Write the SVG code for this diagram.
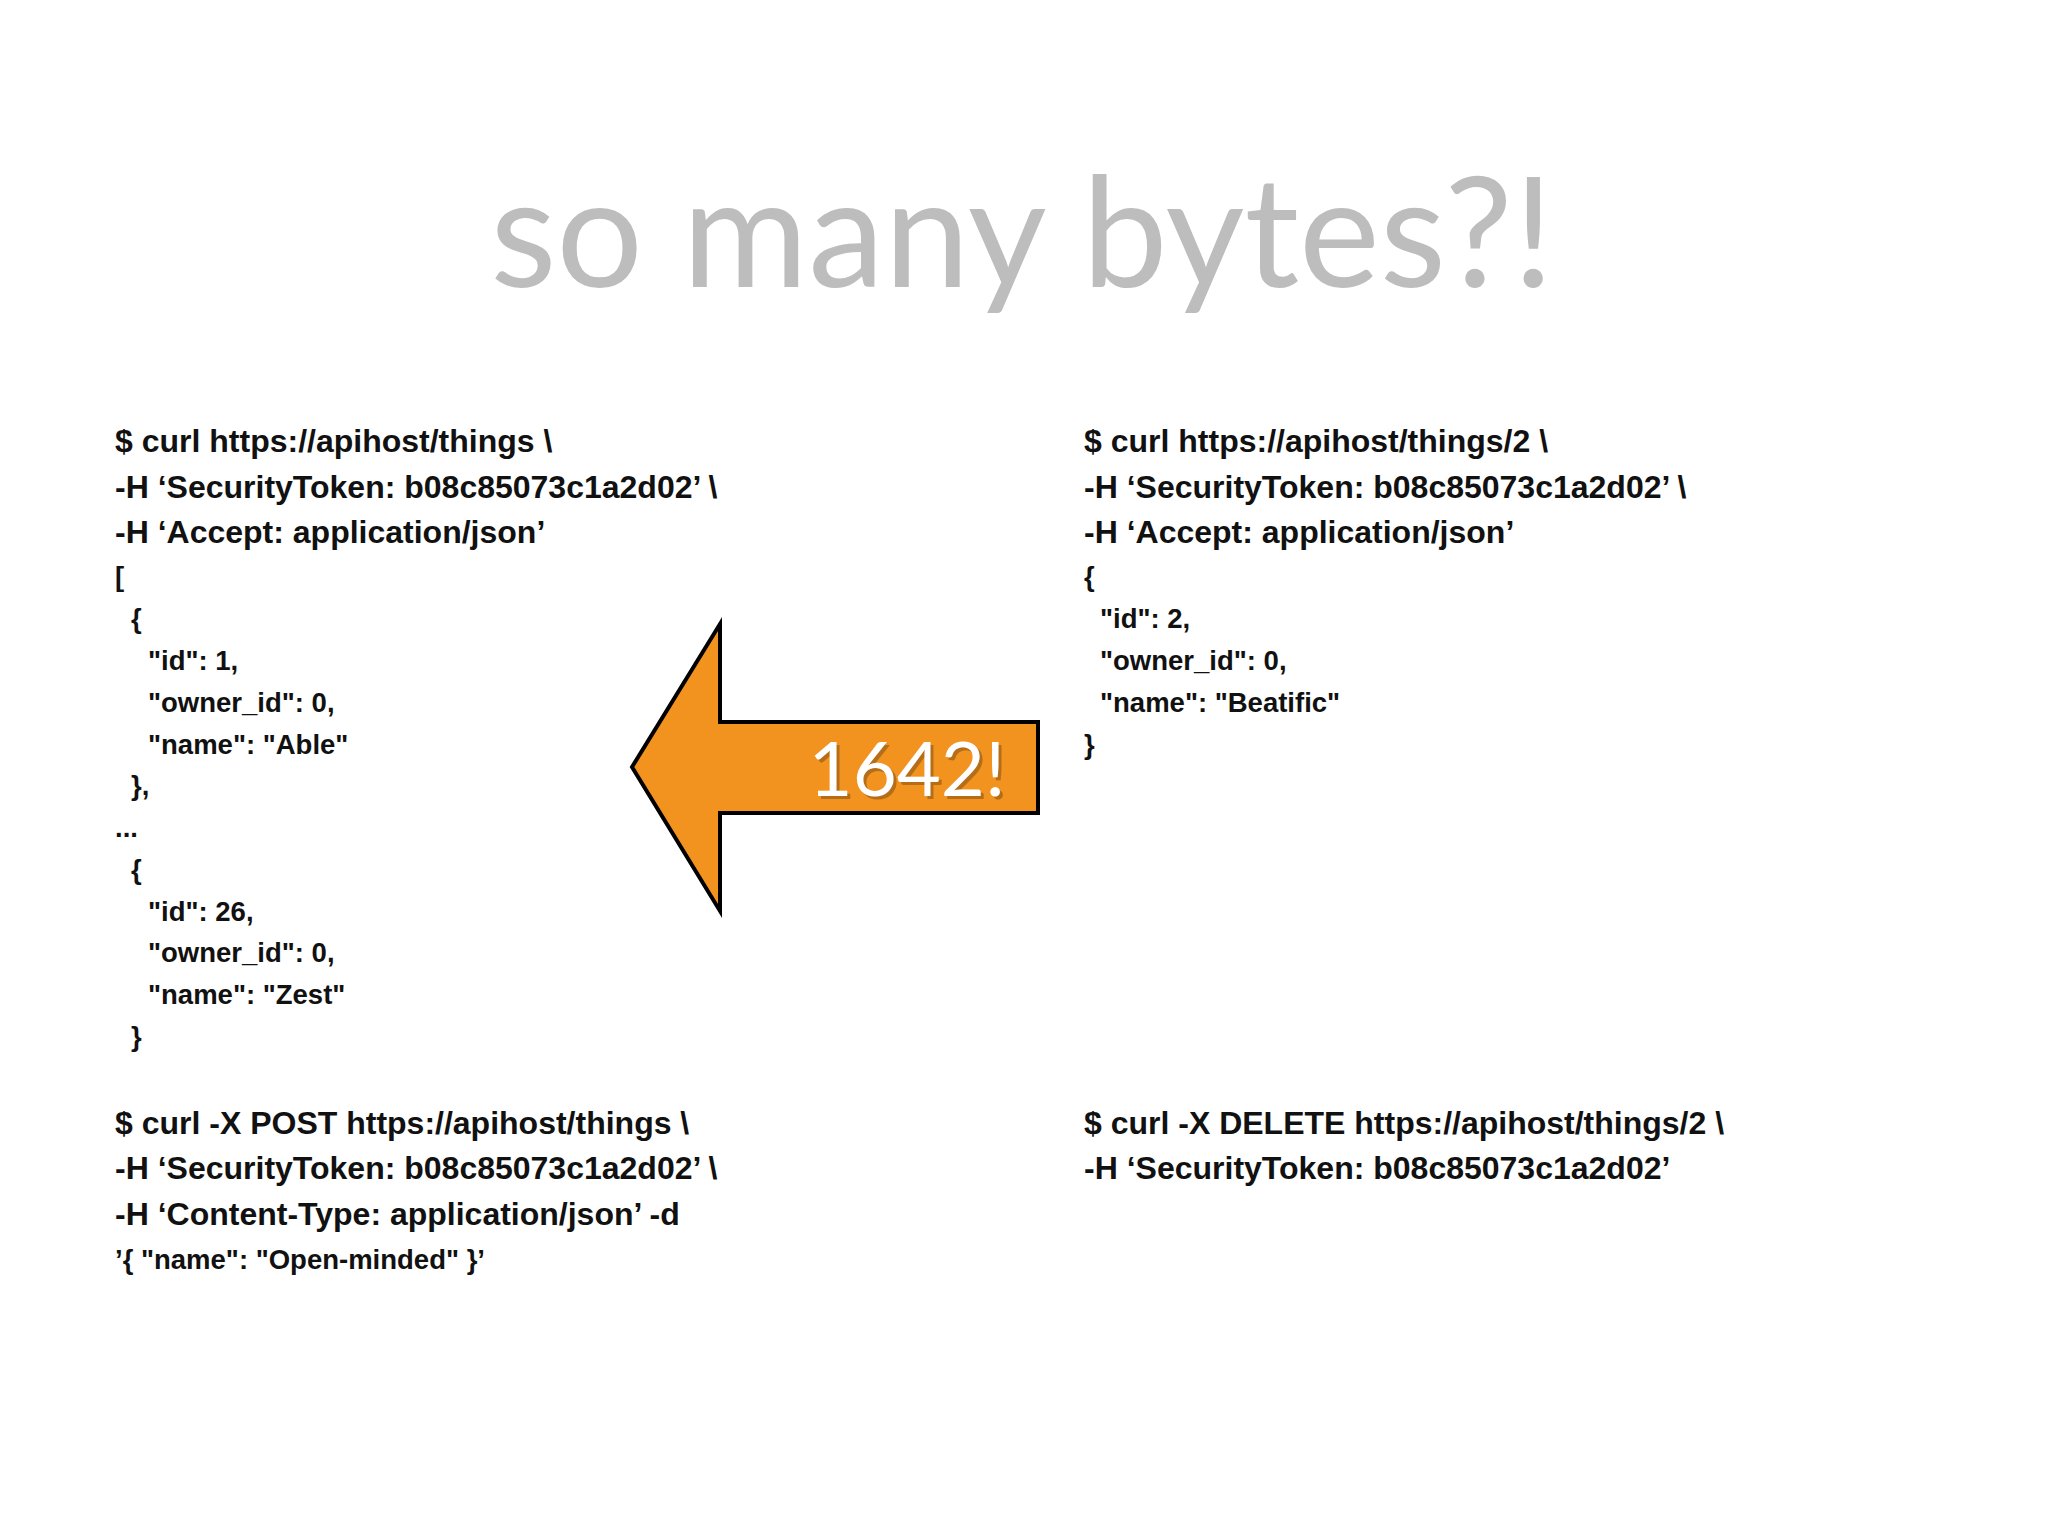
<svg xmlns="http://www.w3.org/2000/svg" width="2048" height="1536" viewBox="0 0 2048 1536">
<style>
.t{font-family:"Liberation Sans",Arial,sans-serif;font-weight:bold;font-size:32px;fill:#111}
.s{font-size:27.5px}
</style>
<rect width="2048" height="1536" fill="#fff"/>
<text x="1022" y="287" text-anchor="middle" font-family="Lato, 'Open Sans', sans-serif" font-size="153" fill="#bdbdbd">so many bytes?!</text>
<g id="left" class="t">
<text x="115" y="452">$ curl https://apihost/things \</text>
<text x="115" y="498">-H ‘SecurityToken: b08c85073c1a2d02’ \</text>
<text x="115" y="543">-H ‘Accept: application/json’</text>
<text x="115" y="586" class="s">[</text>
<text x="131" y="628" class="s">{</text>
<text x="148" y="670" class="s">"id": 1,</text>
<text x="148" y="712" class="s">"owner_id": 0,</text>
<text x="148" y="754" class="s">"name": "Able"</text>
<text x="131" y="795" class="s">},</text>
<text x="115" y="837" class="s">...</text>
<text x="131" y="879" class="s">{</text>
<text x="148" y="921" class="s">"id": 26,</text>
<text x="148" y="962" class="s">"owner_id": 0,</text>
<text x="148" y="1004" class="s">"name": "Zest"</text>
<text x="131" y="1046" class="s">}</text>
</g>
<g id="right" class="t">
<text x="1084" y="452">$ curl https://apihost/things/2 \</text>
<text x="1084" y="498">-H ‘SecurityToken: b08c85073c1a2d02’ \</text>
<text x="1084" y="543">-H ‘Accept: application/json’</text>
<text x="1084" y="586" class="s">{</text>
<text x="1100" y="628" class="s">"id": 2,</text>
<text x="1100" y="670" class="s">"owner_id": 0,</text>
<text x="1100" y="712" class="s">"name": "Beatific"</text>
<text x="1084" y="754" class="s">}</text>
</g>
<g id="post" class="t">
<text x="115" y="1134">$ curl -X POST https://apihost/things \</text>
<text x="115" y="1179">-H ‘SecurityToken: b08c85073c1a2d02’ \</text>
<text x="115" y="1225">-H ‘Content-Type: application/json’ -d</text>
<text x="115" y="1269" class="s">’{ "name": "Open-minded" }’</text>
</g>
<g id="delete" class="t">
<text x="1084" y="1134">$ curl -X DELETE https://apihost/things/2 \</text>
<text x="1084" y="1179">-H ‘SecurityToken: b08c85073c1a2d02’</text>
</g>
<g id="arrow">
<polygon points="632,767 720,624 720,722 1038,722 1038,813 720,813 720,911" fill="#f2921f" stroke="#000" stroke-width="4" stroke-linejoin="miter"/>
<text x="910" y="799" text-anchor="middle" font-family="Lato, 'Open Sans', sans-serif" font-size="76" fill="#7a4a10" opacity="0.5">1642!</text>
<text x="907" y="796" text-anchor="middle" font-family="Lato, 'Open Sans', sans-serif" font-size="76" fill="#fff">1642!</text>
</g>
</svg>
